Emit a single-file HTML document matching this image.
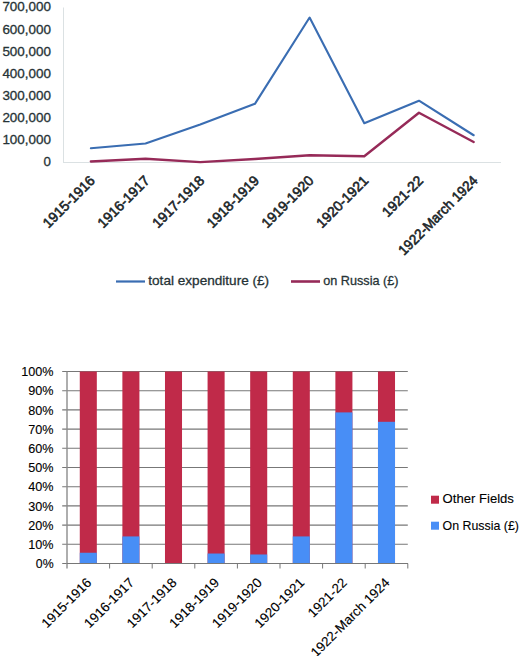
<!DOCTYPE html>
<html><head><meta charset="utf-8"><style>
html,body{margin:0;padding:0;background:#fff;}
svg{display:block;font-family:"Liberation Sans", sans-serif;}
</style></head><body>
<svg width="520" height="656" viewBox="0 0 520 656">
<rect width="520" height="656" fill="#fff"/>
<text x="51" y="166.40" text-anchor="end" font-size="13.3" fill="#263336" stroke="#263336" stroke-width="0.3">0</text>
<text x="51" y="144.26" text-anchor="end" font-size="13.3" fill="#263336" stroke="#263336" stroke-width="0.3" textLength="48.6" lengthAdjust="spacingAndGlyphs">100,000</text>
<text x="51" y="122.11" text-anchor="end" font-size="13.3" fill="#263336" stroke="#263336" stroke-width="0.3" textLength="48.6" lengthAdjust="spacingAndGlyphs">200,000</text>
<text x="51" y="99.97" text-anchor="end" font-size="13.3" fill="#263336" stroke="#263336" stroke-width="0.3" textLength="48.6" lengthAdjust="spacingAndGlyphs">300,000</text>
<text x="51" y="77.83" text-anchor="end" font-size="13.3" fill="#263336" stroke="#263336" stroke-width="0.3" textLength="48.6" lengthAdjust="spacingAndGlyphs">400,000</text>
<text x="51" y="55.69" text-anchor="end" font-size="13.3" fill="#263336" stroke="#263336" stroke-width="0.3" textLength="48.6" lengthAdjust="spacingAndGlyphs">500,000</text>
<text x="51" y="33.54" text-anchor="end" font-size="13.3" fill="#263336" stroke="#263336" stroke-width="0.3" textLength="48.6" lengthAdjust="spacingAndGlyphs">600,000</text>
<text x="51" y="11.40" text-anchor="end" font-size="13.3" fill="#263336" stroke="#263336" stroke-width="0.3" textLength="48.6" lengthAdjust="spacingAndGlyphs">700,000</text>
<line x1="63.5" y1="7.5" x2="63.5" y2="162.5" stroke="#dbe1e3" stroke-width="1"/>
<line x1="63.0" y1="162.5" x2="501.0" y2="162.5" stroke="#dbe1e3" stroke-width="1"/>
<polyline points="90.84,161.50 145.53,158.74 200.22,162.17 254.91,158.96 309.59,155.19 364.28,156.30 418.97,112.79 473.66,142.02" fill="none" stroke="#962a58" stroke-width="2.4" stroke-linejoin="round" stroke-linecap="round"/>
<polyline points="90.84,148.26 145.53,143.44 200.22,124.41 254.91,103.82 309.59,17.53 364.28,123.20 418.97,100.72 473.66,135.26" fill="none" stroke="#3a6db2" stroke-width="2.1" stroke-linejoin="round" stroke-linecap="round"/>
<text transform="translate(95.84,181.40) rotate(-45)" text-anchor="end" font-size="14" fill="#1c2629" stroke="#1c2629" stroke-width="0.6">1915-1916</text>
<text transform="translate(150.53,181.40) rotate(-45)" text-anchor="end" font-size="14" fill="#1c2629" stroke="#1c2629" stroke-width="0.6">1916-1917</text>
<text transform="translate(205.22,181.40) rotate(-45)" text-anchor="end" font-size="14" fill="#1c2629" stroke="#1c2629" stroke-width="0.6">1917-1918</text>
<text transform="translate(259.91,181.40) rotate(-45)" text-anchor="end" font-size="14" fill="#1c2629" stroke="#1c2629" stroke-width="0.6">1918-1919</text>
<text transform="translate(314.59,181.40) rotate(-45)" text-anchor="end" font-size="14" fill="#1c2629" stroke="#1c2629" stroke-width="0.6">1919-1920</text>
<text transform="translate(369.28,181.40) rotate(-45)" text-anchor="end" font-size="14" fill="#1c2629" stroke="#1c2629" stroke-width="0.6">1920-1921</text>
<text transform="translate(423.97,181.40) rotate(-45)" text-anchor="end" font-size="14" fill="#1c2629" stroke="#1c2629" stroke-width="0.6">1921-22</text>
<text transform="translate(478.66,181.40) rotate(-45)" text-anchor="end" textLength="105.5" lengthAdjust="spacingAndGlyphs" font-size="14" fill="#1c2629" stroke="#1c2629" stroke-width="0.6">1922-March 1924</text>
<line x1="116" y1="281.5" x2="145" y2="281.5" stroke="#3a6db2" stroke-width="2.2"/>
<text x="148.3" y="285.3" font-size="13.3" fill="#263336" stroke="#263336" stroke-width="0.3" textLength="120.8" lengthAdjust="spacingAndGlyphs">total expenditure (£)</text>
<line x1="291" y1="281.5" x2="320" y2="281.5" stroke="#962a58" stroke-width="2.6"/>
<text x="323.2" y="285.3" font-size="13.3" fill="#263336" stroke="#263336" stroke-width="0.3" textLength="75.3" lengthAdjust="spacingAndGlyphs">on Russia (£)</text>
<text x="53.6" y="568.20" text-anchor="end" font-size="13.3" fill="#000" stroke="#000" stroke-width="0.12" textLength="17.8" lengthAdjust="spacingAndGlyphs">0%</text>
<text x="53.6" y="549.00" text-anchor="end" font-size="13.3" fill="#000" stroke="#000" stroke-width="0.12" textLength="25.3" lengthAdjust="spacingAndGlyphs">10%</text>
<text x="53.6" y="529.80" text-anchor="end" font-size="13.3" fill="#000" stroke="#000" stroke-width="0.12" textLength="25.3" lengthAdjust="spacingAndGlyphs">20%</text>
<text x="53.6" y="510.60" text-anchor="end" font-size="13.3" fill="#000" stroke="#000" stroke-width="0.12" textLength="25.3" lengthAdjust="spacingAndGlyphs">30%</text>
<text x="53.6" y="491.40" text-anchor="end" font-size="13.3" fill="#000" stroke="#000" stroke-width="0.12" textLength="25.3" lengthAdjust="spacingAndGlyphs">40%</text>
<text x="53.6" y="472.20" text-anchor="end" font-size="13.3" fill="#000" stroke="#000" stroke-width="0.12" textLength="25.3" lengthAdjust="spacingAndGlyphs">50%</text>
<text x="53.6" y="453.00" text-anchor="end" font-size="13.3" fill="#000" stroke="#000" stroke-width="0.12" textLength="25.3" lengthAdjust="spacingAndGlyphs">60%</text>
<text x="53.6" y="433.80" text-anchor="end" font-size="13.3" fill="#000" stroke="#000" stroke-width="0.12" textLength="25.3" lengthAdjust="spacingAndGlyphs">70%</text>
<text x="53.6" y="414.60" text-anchor="end" font-size="13.3" fill="#000" stroke="#000" stroke-width="0.12" textLength="25.3" lengthAdjust="spacingAndGlyphs">80%</text>
<text x="53.6" y="395.40" text-anchor="end" font-size="13.3" fill="#000" stroke="#000" stroke-width="0.12" textLength="25.3" lengthAdjust="spacingAndGlyphs">90%</text>
<text x="53.6" y="376.20" text-anchor="end" font-size="13.3" fill="#000" stroke="#000" stroke-width="0.12" textLength="32.3" lengthAdjust="spacingAndGlyphs">100%</text>
<line x1="62.2" y1="563.50" x2="407.8" y2="563.50" stroke="#777777" stroke-width="1.1"/>
<line x1="62.2" y1="544.30" x2="407.8" y2="544.30" stroke="#777777" stroke-width="1.1"/>
<line x1="62.2" y1="525.10" x2="407.8" y2="525.10" stroke="#777777" stroke-width="1.1"/>
<line x1="62.2" y1="505.90" x2="407.8" y2="505.90" stroke="#777777" stroke-width="1.1"/>
<line x1="62.2" y1="486.70" x2="407.8" y2="486.70" stroke="#777777" stroke-width="1.1"/>
<line x1="62.2" y1="467.50" x2="407.8" y2="467.50" stroke="#777777" stroke-width="1.1"/>
<line x1="62.2" y1="448.30" x2="407.8" y2="448.30" stroke="#777777" stroke-width="1.1"/>
<line x1="62.2" y1="429.10" x2="407.8" y2="429.10" stroke="#777777" stroke-width="1.1"/>
<line x1="62.2" y1="409.90" x2="407.8" y2="409.90" stroke="#777777" stroke-width="1.1"/>
<line x1="62.2" y1="390.70" x2="407.8" y2="390.70" stroke="#777777" stroke-width="1.1"/>
<line x1="62.2" y1="371.50" x2="407.8" y2="371.50" stroke="#777777" stroke-width="1.1"/>
<rect x="79.78" y="371.50" width="17.04" height="192.00" fill="#c02a49"/>
<rect x="79.78" y="552.75" width="17.04" height="10.75" fill="#488ef6"/>
<rect x="122.38" y="371.50" width="17.04" height="192.00" fill="#c02a49"/>
<rect x="122.38" y="536.43" width="17.04" height="27.07" fill="#488ef6"/>
<rect x="164.98" y="371.50" width="17.04" height="192.00" fill="#c02a49"/>
<rect x="207.58" y="371.50" width="17.04" height="192.00" fill="#c02a49"/>
<rect x="207.58" y="553.52" width="17.04" height="9.98" fill="#488ef6"/>
<rect x="250.18" y="371.50" width="17.04" height="192.00" fill="#c02a49"/>
<rect x="250.18" y="554.48" width="17.04" height="9.02" fill="#488ef6"/>
<rect x="292.78" y="371.50" width="17.04" height="192.00" fill="#c02a49"/>
<rect x="292.78" y="536.43" width="17.04" height="27.07" fill="#488ef6"/>
<rect x="335.38" y="371.50" width="17.04" height="192.00" fill="#c02a49"/>
<rect x="335.38" y="412.40" width="17.04" height="151.10" fill="#488ef6"/>
<rect x="377.98" y="371.50" width="17.04" height="192.00" fill="#c02a49"/>
<rect x="377.98" y="421.80" width="17.04" height="141.70" fill="#488ef6"/>
<line x1="67.0" y1="371.5" x2="67.0" y2="568.5" stroke="#8c8c8c" stroke-width="1.4"/>
<line x1="67.0" y1="563.5" x2="407.8" y2="563.5" stroke="#777777" stroke-width="1"/>
<line x1="109.60" y1="563.5" x2="109.60" y2="568.5" stroke="#777777" stroke-width="1"/>
<line x1="152.20" y1="563.5" x2="152.20" y2="568.5" stroke="#777777" stroke-width="1"/>
<line x1="194.80" y1="563.5" x2="194.80" y2="568.5" stroke="#777777" stroke-width="1"/>
<line x1="237.40" y1="563.5" x2="237.40" y2="568.5" stroke="#777777" stroke-width="1"/>
<line x1="280.00" y1="563.5" x2="280.00" y2="568.5" stroke="#777777" stroke-width="1"/>
<line x1="322.60" y1="563.5" x2="322.60" y2="568.5" stroke="#777777" stroke-width="1"/>
<line x1="365.20" y1="563.5" x2="365.20" y2="568.5" stroke="#777777" stroke-width="1"/>
<line x1="407.80" y1="563.5" x2="407.80" y2="568.5" stroke="#777777" stroke-width="1"/>
<text transform="translate(92.30,583.50) rotate(-45)" text-anchor="end" font-size="13.4" fill="#000" stroke="#000" stroke-width="0.12">1915-1916</text>
<text transform="translate(134.90,583.50) rotate(-45)" text-anchor="end" font-size="13.4" fill="#000" stroke="#000" stroke-width="0.12">1916-1917</text>
<text transform="translate(177.50,583.50) rotate(-45)" text-anchor="end" font-size="13.4" fill="#000" stroke="#000" stroke-width="0.12">1917-1918</text>
<text transform="translate(220.10,583.50) rotate(-45)" text-anchor="end" font-size="13.4" fill="#000" stroke="#000" stroke-width="0.12">1918-1919</text>
<text transform="translate(262.70,583.50) rotate(-45)" text-anchor="end" font-size="13.4" fill="#000" stroke="#000" stroke-width="0.12">1919-1920</text>
<text transform="translate(305.30,583.50) rotate(-45)" text-anchor="end" font-size="13.4" fill="#000" stroke="#000" stroke-width="0.12">1920-1921</text>
<text transform="translate(347.90,583.50) rotate(-45)" text-anchor="end" font-size="13.4" fill="#000" stroke="#000" stroke-width="0.12">1921-22</text>
<text transform="translate(390.50,583.50) rotate(-45)" text-anchor="end" font-size="13.4" fill="#000" stroke="#000" stroke-width="0.12">1922-March 1924</text>
<rect x="431" y="495.7" width="8" height="8" fill="#c02a49"/>
<text x="442.6" y="503.3" font-size="13.3" fill="#000" stroke="#000" stroke-width="0.12" textLength="71.3" lengthAdjust="spacingAndGlyphs">Other Fields</text>
<rect x="431" y="521.7" width="8" height="8" fill="#488ef6"/>
<text x="442.6" y="529.7" font-size="13.3" fill="#000" stroke="#000" stroke-width="0.12" textLength="76.3" lengthAdjust="spacingAndGlyphs">On Russia (£)</text>
</svg>
</body></html>
